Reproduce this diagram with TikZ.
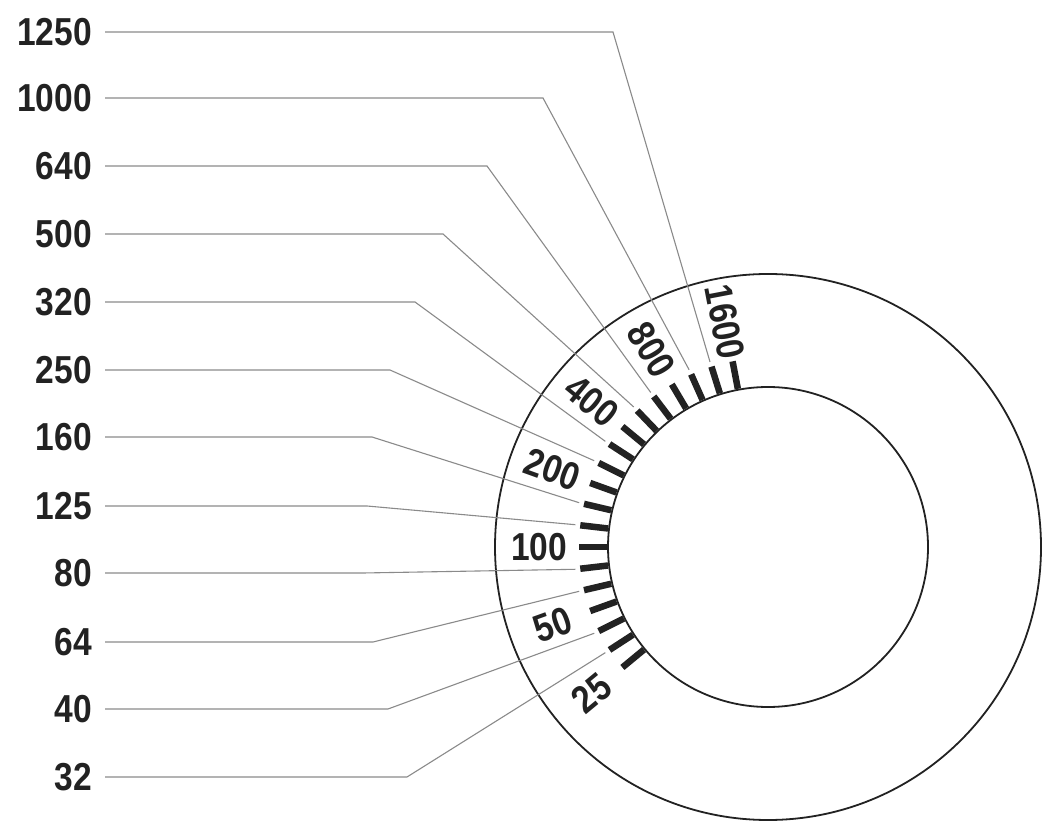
\documentclass[tikz,border=0pt]{standalone}
\usepackage{fontspec}
\newfontfamily\numfont{Liberation Sans}[FakeStretch=0.86]
\usetikzlibrary{calc}
\definecolor{ink}{HTML}{222222}
\definecolor{lead}{HTML}{8A8A8A}
\begin{document}
\begin{tikzpicture}[x=1pt,y=1pt,
  numlab/.style={font=\numfont\bfseries\fontsize{39}{39}\selectfont, text=ink, inner sep=0pt},
  leftlab/.style={numlab, anchor=east, inner xsep=13pt},
  leader/.style={draw=lead, line width=1.1pt},
  tickmark/.style={draw=ink, line width=6.5pt},
  ring/.style={draw=ink, line width=1.8pt}]
\useasboundingbox (0,0) rectangle (1043,822);
\coordinate (C) at (768,275);
\draw[ring] (C) circle[radius=273];
\draw[ring] (C) circle[radius=160];
\foreach \k in {-6,...,12}{
  \coordinate (ti\k) at ($(C)+(180-6.6*\k:161)$);
  \coordinate (to\k) at ($(C)+(180-6.6*\k:189)$);
  \draw[tickmark] (ti\k) -- (to\k);
}
\foreach \v/\k in {1600/12,800/9,400/6,200/3,100/0,50/-3,25/-6}{
  \pgfmathsetmacro\a{180-6.6*\k}
  \node[numlab, rotate=\a-180] (r\v) at ($(C)+(\a:229)$) {\v};
}
\foreach \v/\k/\y/\bx in {1250/11/790/613,1000/10/724/543,640/8/656/487,500/7/588/443,320/5/520/415,250/4/452/390,160/2/385/372,125/1/316/367,80/-1/249/363,64/-2/180/373,40/-4/113/388,32/-5/45/407}{
  \node[leftlab] (l\v) at (105,\y) {\v};
  \coordinate (b\v) at (\bx,\y);
  \coordinate (e\v) at ($(C)+(180-6.6*\k:194)$);
  \draw[leader] (l\v.east) -- (b\v) -- (e\v);
}
\end{tikzpicture}
\end{document}
